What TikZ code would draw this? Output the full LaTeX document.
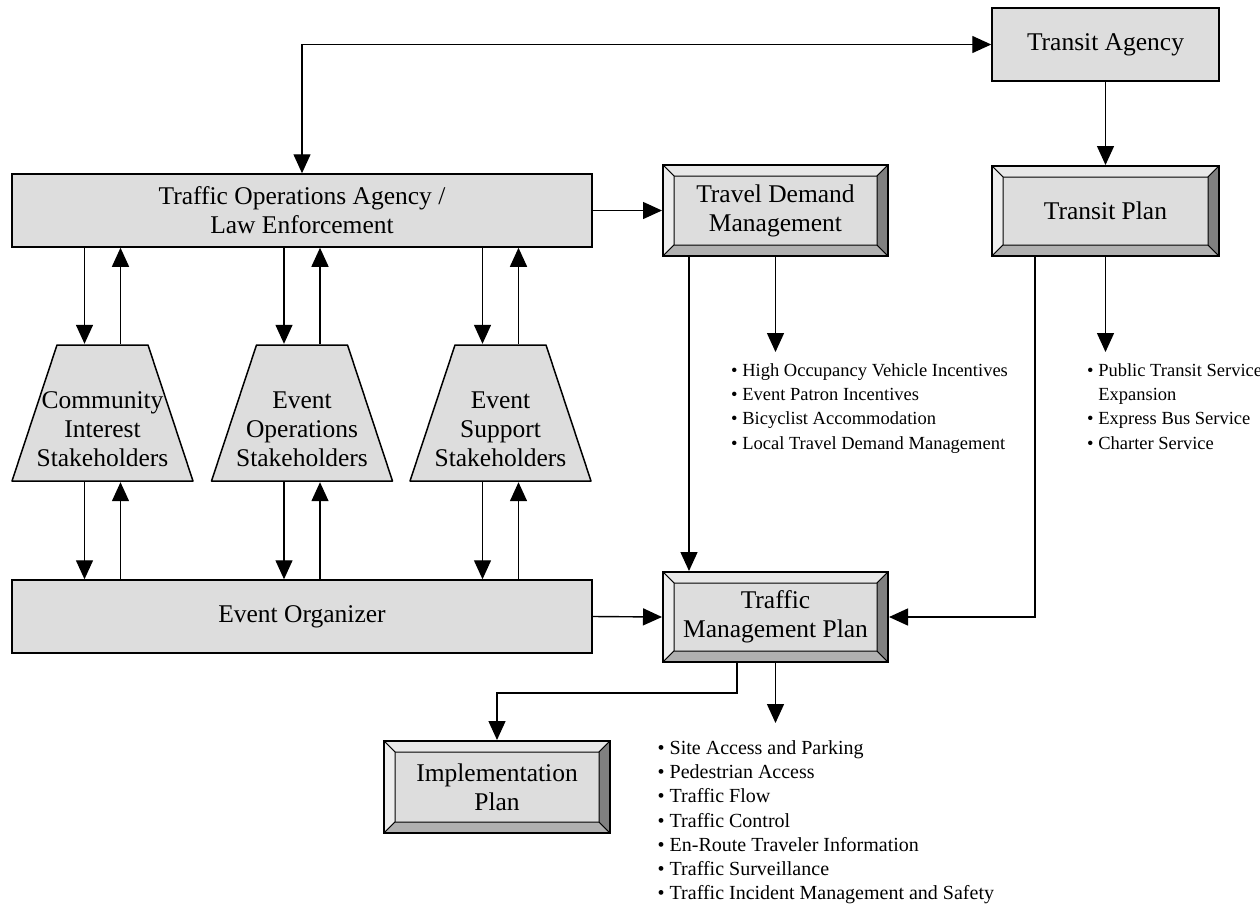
\documentclass[tikz,border=0pt]{standalone}
\usepackage{fontspec}
\setmainfont{Liberation Serif}
\usetikzlibrary{arrows.meta,calc}
\definecolor{boxgray}{RGB}{221,221,221}
\definecolor{bevtop}{RGB}{232,232,232}
\definecolor{bevleft}{RGB}{238,238,238}
\definecolor{bevbot}{RGB}{176,176,176}
\definecolor{bevright}{RGB}{128,128,128}
\newcommand{\diagboxfont}{\fontsize{25.5}{29}\selectfont}
\newcommand{\diaglistfont}{\fontsize{18.5}{24.3}\selectfont}
\newcommand{\diagbiglistfont}{\fontsize{20}{24.2}\selectfont}
\tikzset{
  arr/.style={line width=1.4pt, -{Triangle[length=19pt,width=17pt]}},
  biarr/.style={line width=1.4pt, {Triangle[length=19pt,width=17pt]}-{Triangle[length=19pt,width=17pt]}},
  plainbox/.style={draw, line width=1.5pt, fill=boxgray, align=center, font=\diagboxfont, inner sep=0pt},
  bevelbox/.style={plainbox, line width=2pt,
    path picture={
      \coordinate (pnw) at (path picture bounding box.north west);
      \coordinate (pne) at (path picture bounding box.north east);
      \coordinate (psw) at (path picture bounding box.south west);
      \coordinate (pse) at (path picture bounding box.south east);
      \filldraw[fill=bevtop, line width=1pt] (pnw) -- (pne) -- ([xshift=-11pt,yshift=-11pt]pne) -- ([xshift=11pt,yshift=-11pt]pnw) -- cycle;
      \filldraw[fill=bevleft, line width=1pt] (pnw) -- ([xshift=11pt,yshift=-11pt]pnw) -- ([xshift=11pt,yshift=11pt]psw) -- (psw) -- cycle;
      \filldraw[fill=bevbot, line width=1pt] (psw) -- ([xshift=11pt,yshift=11pt]psw) -- ([xshift=-11pt,yshift=11pt]pse) -- (pse) -- cycle;
      \filldraw[fill=bevright, line width=1pt] (pne) -- (pse) -- ([xshift=-11pt,yshift=11pt]pse) -- ([xshift=-11pt,yshift=-11pt]pne) -- cycle;
    }},
  stakebox/.style={minimum width=186pt, minimum height=138pt, inner sep=0pt,
    path picture={
      \filldraw[fill=boxgray, line width=1.5pt, line join=round]
        ([xshift=-45.5pt,yshift=-1pt]path picture bounding box.north) --
        ([xshift=45.5pt,yshift=-1pt]path picture bounding box.north) --
        ([xshift=90.5pt,yshift=1pt]path picture bounding box.south) --
        ([xshift=-90.5pt,yshift=1pt]path picture bounding box.south) -- cycle;
    }},
  stakelabel/.style={font=\diagboxfont, align=center, yshift=-16pt},
  bullets/.style={anchor=north west, align=left, inner sep=0pt, font=\diaglistfont}
}
\begin{document}
\begin{tikzpicture}[x=1pt,y=-1pt]
\useasboundingbox[fill=white] (0,0) rectangle (1260,905);
% Boxes
\node[plainbox, minimum width=580pt, minimum height=73pt] (toa) at (302,210.5) {Traffic Operations Agency /\\Law Enforcement};
\node[plainbox, minimum width=580pt, minimum height=73pt] (eo) at (302,616.5) {Event Organizer};
\node[plainbox, minimum width=227pt, minimum height=73pt] (ta) at (1105.5,44.5) {Transit Agency};
\node[bevelbox, minimum width=227pt, minimum height=90pt] (tp) at (1105.5,211) {Transit Plan};
\node[bevelbox, minimum width=225pt, minimum height=91pt] (tdm) at (775.5,210.5) {Travel Demand\\Management};
\node[bevelbox, minimum width=225pt, minimum height=90pt] (tmp) at (775.5,617) {Traffic\\Management Plan};
\node[bevelbox, minimum width=226pt, minimum height=92pt] (impl) at (497,787) {Implementation\\Plan};
% Stakeholders
\node[stakebox, label={[stakelabel]center:Community\\Interest\\Stakeholders}] (cis) at (102.5,413) {};
\node[stakebox, label={[stakelabel]center:Event\\Operations\\Stakeholders}] (eos) at (302,413) {};
\node[stakebox, label={[stakelabel]center:Event\\Support\\Stakeholders}] (ess) at (500.5,413) {};
% Lists
\node[bullets] (tdmitems) at (731,363.2) {• High Occupancy Vehicle Incentives\\• Event Patron Incentives\\• Bicyclist Accommodation\\• Local Travel Demand Management};
\node[bullets] (tpitems) at (1087,363.2) {• Public Transit Service\\\hphantom{• }Expansion\\• Express Bus Service\\• Charter Service};
\node[bullets, font=\diagbiglistfont] (tmpitems) at (657.5,740.5) {• Site Access and Parking\\• Pedestrian Access\\• Traffic Flow\\• Traffic Control\\• En-Route Traveler Information\\• Traffic Surveillance\\• Traffic Incident Management and Safety};
\coordinate (tdmtip) at (775.5,352);
\coordinate (tptip) at (1105.5,352);
\coordinate (tmptip) at (775.5,723);
% Connectors
\draw[biarr] (toa.north) |- (ta.west);
\draw[arr] (ta) -- (tp);
\draw[arr] (toa.east) -- (tdm.west);
\draw[arr] (eo.east) -- (tmp.west);
\draw[arr] ([xshift=-86.5pt]tdm.south) -- ([xshift=-86.5pt]tmp.north);
\draw[arr] (tdm.south) -- (tdmtip);
\draw[arr] (tp.south) -- (tptip);
\draw[arr] ([xshift=-70.5pt]tp.south) |- (tmp.east);
\draw[arr] ([xshift=-38.5pt]tmp.south) -- ++(0,30) -| (impl.north);
\draw[arr] (tmp.south) -- (tmptip);
\foreach \s in {cis,eos,ess}{
  \draw[arr] ($(toa.south -| \s.north)+(-18,0)$) -- ($(\s.north)+(-18,0)$);
  \draw[arr] ($(\s.north)+(18,0)$) -- ($(toa.south -| \s.north)+(18,0)$);
  \draw[arr] ($(\s.south)+(-18,0)$) -- ($(eo.north -| \s.south)+(-18,0)$);
  \draw[arr] ($(eo.north -| \s.south)+(18,0)$) -- ($(\s.south)+(18,0)$);
}
\end{tikzpicture}
\end{document}
